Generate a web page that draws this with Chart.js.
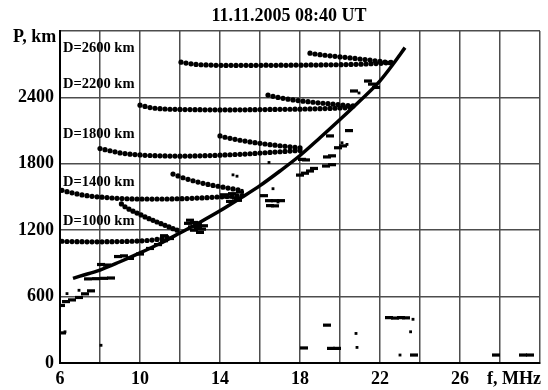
<!DOCTYPE html>
<html>
<head>
<meta charset="utf-8">
<script src="https://cdn.jsdelivr.net/npm/chart.js@4.4.0/dist/chart.umd.min.js"></script>
<style>
  html, body { margin: 0; padding: 0; background: #fff; }
  #wrap { width: 548px; height: 390px; }
</style>
</head>
<body>
<div id="wrap"><canvas id="chart"></canvas></div>
<script>
const title = '11.11.2005 08:40 UT';
const xTickLabels = [6, 10, 14, 18, 22, 26];
const yTickLabels = [0, 600, 1200, 1800, 2400];
const dLabels = ['D=2600 km', 'D=2200 km', 'D=1800 km', 'D=1400 km', 'D=1000 km'];
const dLabelP = [2845, 2520, 2070, 1630, 1280];

// smooth leading edge
const curveF = [6.65, 7, 8, 9, 10, 11, 12, 13, 14, 15, 16, 17, 18, 19, 20, 21, 22, 22.65, 23.25];
const curveP = [765, 785, 840, 915, 995, 1080, 1175, 1272, 1375, 1487, 1603, 1735, 1875, 2035, 2200, 2370, 2550, 2700, 2850];

// dotted traces [f, P]
const rowA = [[12.05,2718],[12.3,2710],[12.55,2703],[12.8,2698],[13.05,2695],[13.3,2693],[13.55,2692],[13.8,2690],
  [14.05,2690],[14.3,2689],[14.55,2690],[14.8,2689],[15.05,2690],[15.3,2690],[15.55,2689],[15.8,2690],[16.05,2690],
  [16.3,2691],[16.55,2690],[16.8,2690],[17.05,2691],[17.3,2690],[17.55,2691],[17.8,2692],[18.05,2691],[18.3,2692],
  [18.55,2693],[18.8,2692],[19.05,2693],[19.3,2694],[19.55,2694],[19.8,2695],[20.05,2696],[20.3,2697],[20.55,2698],
  [20.8,2699],[21.05,2700],[21.3,2702],[21.55,2704],[21.8,2706],[22.05,2708],[22.3,2712],[22.55,2716]];
const rowB = [[18.5,2800],[18.75,2792],[19,2786],[19.25,2781],[19.5,2776],[19.75,2771],[20,2766],[20.25,2762],
  [20.5,2757],[20.75,2752],[21,2747],[21.25,2742],[21.5,2737],[21.75,2731],[22,2725],[22.25,2719],[22.5,2713]];
const rowC = [[10,2330],[10.25,2318],[10.5,2308],[10.75,2302],[11,2298],[11.25,2295],[11.5,2293],[11.75,2292],
  [12,2291],[12.25,2290],[12.5,2290],[12.75,2289],[13,2289],[13.25,2288],[13.5,2288],[13.75,2288],[14,2287],
  [14.25,2288],[14.5,2287],[14.75,2288],[15,2288],[15.25,2288],[15.5,2289],[15.75,2289],[16,2290],[16.25,2290],
  [16.5,2291],[16.75,2291],[17,2292],[17.25,2292],[17.5,2293],[17.75,2294],[18,2294],[18.25,2295],[18.5,2296],
  [18.75,2297],[19,2298],[19.25,2299],[19.5,2300],[19.75,2302],[20,2304],[20.25,2306],[20.5,2309]];
const rowD = [[16.4,2421],[16.65,2410],[16.9,2400],[17.15,2392],[17.4,2384],[17.65,2377],[17.9,2371],[18.15,2366],
  [18.4,2361],[18.65,2356],[18.9,2351],[19.15,2347],[19.4,2343],[19.65,2339],[19.9,2335],[20.15,2331],[20.4,2327],[20.65,2323]];
const rowE = [[8,1938],[8.25,1928],[8.5,1918],[8.75,1908],[9,1898],[9.25,1892],[9.5,1887],[9.75,1883],[10,1880],
  [10.25,1877],[10.5,1875],[10.75,1873],[11,1872],[11.25,1871],[11.5,1870],[11.75,1870],[12,1869],[12.25,1870],
  [12.5,1870],[12.75,1871],[13,1872],[13.25,1873],[13.5,1874],[13.75,1876],[14,1878],[14.25,1880],[14.5,1882],
  [14.75,1884],[15,1886],[15.25,1888],[15.5,1891],[15.75,1894],[16,1897],[16.25,1900],[16.5,1903],[16.75,1906],
  [17,1909],[17.25,1912],[17.5,1915],[17.75,1918],[18,1921]];
const rowF = [[14,2052],[14.25,2040],[14.5,2030],[14.75,2021],[15,2013],[15.25,2005],[15.5,1998],[15.75,1991],
  [16,1985],[16.25,1979],[16.5,1973],[16.75,1968],[17,1963],[17.25,1958],[17.5,1953],[17.75,1948],[18,1944]];
const rowG = [[6.1,1560],[6.35,1548],[6.6,1538],[6.85,1528],[7.1,1519],[7.35,1512],[7.6,1506],[7.85,1502],
  [8.1,1498],[8.35,1495],[8.6,1491],[8.85,1488],[9.1,1486],[9.35,1484],[9.6,1483],[9.85,1482],[10.1,1482],
  [10.35,1482],[10.6,1481],[10.85,1482],[11.1,1482],[11.35,1482],[11.6,1483],[11.85,1484],[12.1,1485],[12.35,1486],
  [12.6,1488],[12.85,1490],[13.1,1492],[13.35,1494],[13.6,1497],[13.85,1500],[14.1,1502],[14.35,1505],[14.6,1507],
  [14.85,1510],[15.1,1512]];
const rowH = [[11.65,1707],[11.9,1690],[12.15,1674],[12.4,1660],[12.65,1647],[12.9,1635],[13.15,1624],[13.4,1614],
  [13.65,1605],[13.9,1597],[14.15,1589],[14.4,1581],[14.65,1573],[14.9,1565]];
const rowI = [[6.1,1100],[6.35,1098],[6.6,1097],[6.85,1096],[7.1,1096],[7.35,1095],[7.6,1095],[7.85,1095],
  [8.1,1095],[8.35,1096],[8.6,1096],[8.85,1097],[9.1,1098],[9.35,1099],[9.6,1100],[9.85,1102],[10.1,1104],
  [10.35,1107],[10.6,1111],[10.85,1117],[11.1,1125],[11.35,1135]];
const rowJ = [[9.07,1437],[9.25,1412],[9.45,1390],[9.65,1372],[9.85,1355],[10.05,1338],[10.25,1320],[10.45,1304],
  [10.65,1289],[10.85,1274],[11.05,1259],[11.25,1244],[11.45,1230],[11.65,1214],[11.85,1200]];

// short dashes and specks
const dashes = [[7.4,760],[7.8,762],[8.2,765],[8.55,768],[8.05,890],[8.35,885],[8.9,962],[9.2,968],[9.5,945],
  [10.0,985],[10.5,1035],[10.9,1070],[11.2,1105],[11.5,1125],[11.2,1150],[12.4,1262],[12.5,1290],[12.7,1270],
  [12.9,1250],[12.6,1230],[12.9,1225],[13.1,1210],[12.7,1200],[13.0,1180],[13.2,1240],
  [6.05,520],[6.3,555],[6.6,570],[6.95,592],[7.25,625],[7.55,652],[6.1,272],
  [14.2,1520],[14.4,1500],[14.6,1530],[14.8,1490],[15.0,1545],[14.5,1460],[14.9,1470],
  [16.2,1512],[16.45,1467],[16.75,1467],[17.05,1467],[16.5,1422],[16.75,1420],
  [18.0,1698],[18.25,1715],[18.5,1735],[18.7,1758],[18.1,1840],[18.3,1835],
  [19.3,1780],[19.6,1792],[19.35,1862],[19.6,1872],[19.9,1945],[20.15,1962],[19.5,2052],[20.45,2100],
  [20.7,2458],[21.4,2548],[21.6,2520],[21.8,2490],
  [18.2,136],[19.35,342],[19.55,132],[19.85,132],[22.45,410],[22.75,406],[23.05,410],[23.3,408],
  [23.7,72],[27.8,72],[29.15,72],[29.5,72]];
const specks = [[6.35,627],[6.95,657],[6.25,282],[8.05,160],[14.65,1700],[14.85,1688],[15.1,1560],
  [16.65,1575],[16.9,1455],[16.45,1812],[20.1,1990],[20.35,1975],[20.95,2440],
  [20.8,267],[20.85,141],[23.65,395],[23.53,282],[23.0,72]];

const toXY = (arr) => arr.map(([x, y]) => ({ x, y }));
const dotRows = [...rowA, ...rowB, ...rowC, ...rowD, ...rowE, ...rowF, ...rowG, ...rowH, ...rowI, ...rowJ];

const serif = '"Liberation Serif", "Times New Roman", serif';

const textPlugin = {
    id: 'textPlugin',
    afterDraw(chart) {
        const ctx = chart.ctx;
        const xs = chart.scales.x;
        const ys = chart.scales.y;
        ctx.save();
        ctx.fillStyle = '#000';
        ctx.textBaseline = 'middle';
        ctx.font = 'bold 18px ' + serif;
        ctx.textAlign = 'center';
        ctx.fillText(title, 289, 16);
        ctx.textAlign = 'left';
        ctx.fillText('P, km', 13, 37);
        ctx.fillText('f, MHz', 487, 379);
        ctx.font = 'bold 14.5px ' + serif;
        dLabels.forEach((t, i) => {
            ctx.fillText(t, xs.getPixelForValue(6) + 3, ys.getPixelForValue(dLabelP[i]));
        });
        ctx.restore();
    }
};

new Chart(document.getElementById('chart'), {
    type: 'scatter',
    data: {
        datasets: [
            {
                type: 'line',
                data: curveF.map((f, i) => ({ x: f, y: curveP[i] })),
                borderColor: '#000',
                borderWidth: 3.5,
                pointRadius: 0,
                cubicInterpolationMode: 'monotone',
                fill: false
            },
            {
                data: toXY(dotRows),
                pointStyle: 'circle',
                pointRadius: 2.6,
                backgroundColor: '#000',
                borderWidth: 0
            },
            {
                data: toXY(dashes),
                pointStyle: 'line',
                pointRadius: 4,
                borderColor: '#000',
                borderWidth: 3.2
            },
            {
                data: toXY(specks),
                pointStyle: 'rect',
                pointRadius: 2,
                backgroundColor: '#000',
                borderWidth: 0
            }
        ]
    },
    options: {
        responsive: true,
        maintainAspectRatio: false,
        animation: false,
        events: [],
        layout: { padding: { top: 31, right: 8, left: 0, bottom: 0 } },
        plugins: {
            legend: { display: false },
            title: { display: false },
            tooltip: { enabled: false }
        },
        scales: {
            x: {
                type: 'linear',
                min: 6,
                max: 30,
                afterFit: (scale) => { scale.height = 27; },
                ticks: {
                    stepSize: 2,
                    padding: 6,
                    color: '#000',
                    font: { family: serif, size: 18, weight: 'bold' },
                    maxRotation: 0,
                    autoSkip: false,
                    callback: (v) => xTickLabels.includes(v) ? String(v) : ''
                },
                grid: { color: '#4d4d4d', lineWidth: 1.5, drawTicks: false },
                border: { color: '#000', width: 2 }
            },
            y: {
                type: 'linear',
                min: 0,
                max: 3000,
                afterFit: (scale) => { scale.width = 60; },
                ticks: {
                    stepSize: 600,
                    padding: 6,
                    color: '#000',
                    font: { family: serif, size: 18, weight: 'bold' },
                    callback: (v) => yTickLabels.includes(v) ? String(v) : ''
                },
                grid: { color: '#4d4d4d', lineWidth: 1.5, drawTicks: false },
                border: { color: '#000', width: 2 }
            }
        }
    },
    plugins: [textPlugin]
});
</script>
</body>
</html>
